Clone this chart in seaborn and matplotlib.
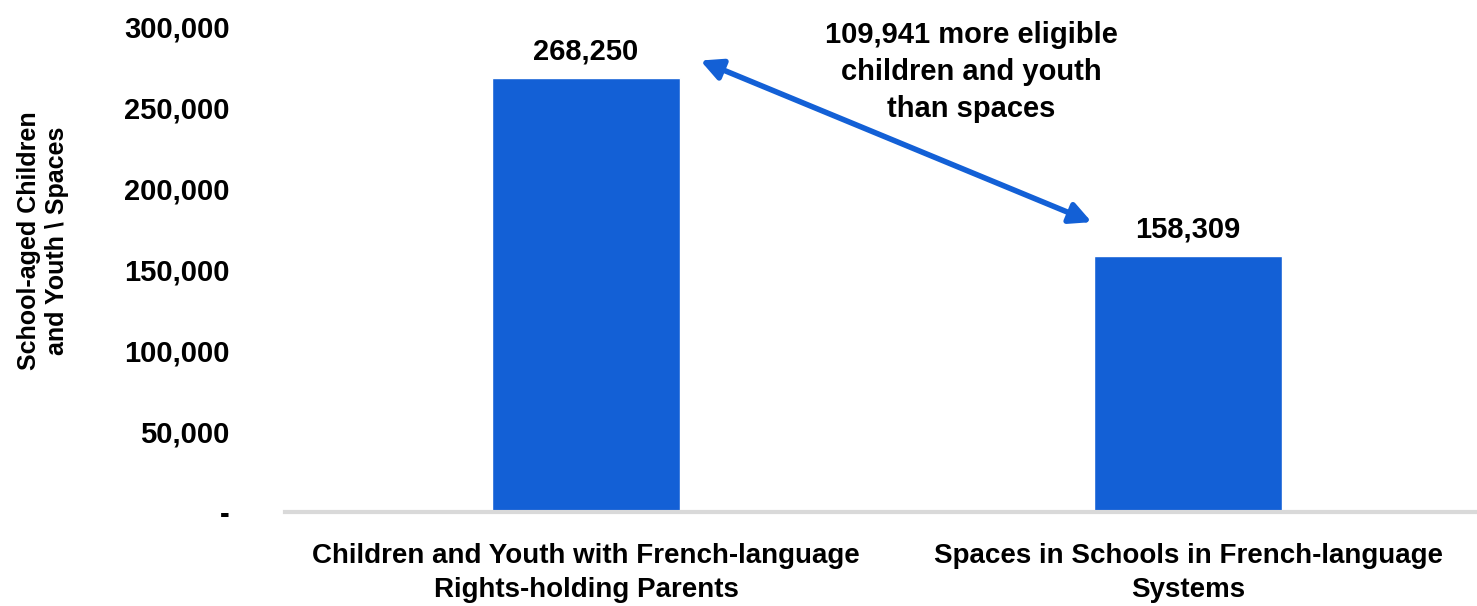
import matplotlib
matplotlib.use("Agg")
import matplotlib.pyplot as plt
import seaborn as sns
import pandas as pd
from matplotlib import font_manager

categories = ["Children and Youth with French-language\nRights-holding Parents",
              "Spaces in Schools in French-language\nSystems"]
values = [268250, 158309]
yticks = [0, 50000, 100000, 150000, 200000, 250000, 300000]
ytick_labels = ["-", "50,000", "100,000", "150,000", "200,000", "250,000", "300,000"]
ylabel = "School-aged Children\nand Youth \\ Spaces"
note = "109,941 more eligible\nchildren and youth\nthan spaces"

sns.set_theme(style="white")
names = {f.name for f in font_manager.fontManager.ttflist}
fam = [f for f in ["Liberation Sans Narrow", "Liberation Sans", "DejaVu Sans"] if f in names]
plt.rcParams["font.family"] = fam
plt.rcParams["font.weight"] = "bold"
plt.rcParams["text.color"] = "black"
plt.rcParams["xtick.color"] = "black"
plt.rcParams["ytick.color"] = "black"
plt.rcParams["axes.labelcolor"] = "black"

BLUE = "#1360D6"
df = pd.DataFrame({"cat": categories, "val": values})

fig = plt.figure(figsize=(14.77, 6.06), dpi=100)
ax = fig.add_axes([285/1477, 1 - 512/606, 1 - 285/1477, (512 - 27)/606])
sns.barplot(data=df, x="cat", y="val", color=BLUE, saturation=1, width=0.313, ax=ax)
ax.set_xlim(-0.5, 1.48)
ax.set_ylim(0, 300000)
ax.set_yticks(yticks)
ax.set_yticklabels(ytick_labels, fontsize=21, fontweight="bold")
ax.tick_params(axis="y", length=0, pad=40)
ax.tick_params(axis="x", length=0, pad=22, labelsize=20)
for t in ax.get_xticklabels():
    t.set_fontweight("bold")
    t.set_linespacing(1.4)
ax.set_xlabel("")
ax.set_ylabel(ylabel, fontsize=18, fontweight="bold")
ax.yaxis.set_label_coords(-0.181, 0.56)
for s in ["top", "right", "left"]:
    ax.spines[s].set_visible(False)
ax.spines["bottom"].set_color("#D9D9D9")
ax.spines["bottom"].set_linewidth(3)

for i, v in enumerate(values):
    ax.text(i, v + 8000, f"{v:,}", ha="center", va="bottom", fontsize=21, fontweight="bold")

ax.annotate("", xy=(0.19, values[0] + 11000), xytext=(0.84, values[1] + 21000),
            arrowprops=dict(arrowstyle="<|-|>", color=BLUE, lw=4, mutation_scale=32,
                            shrinkA=0, shrinkB=0))
ax.text(0.64, 303500, note, ha="center", va="top", fontsize=21, fontweight="bold",
        linespacing=1.4, clip_on=False)

fig.savefig("out.png", dpi=100)
